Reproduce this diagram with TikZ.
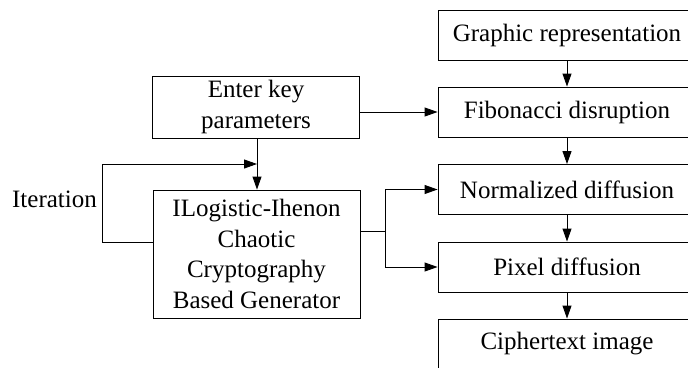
\documentclass[tikz,border=0pt]{standalone}
\usepackage{fontspec}
\setmainfont{LiberationSerif}[Extension=.ttf, UprightFont=*-Regular]
\usetikzlibrary{arrows.meta}

\tikzset{
    caja/.style={draw, line width=0.9pt, minimum width=258pt, minimum height=50pt, inner sep=0pt, align=center},
    cajaizq/.style={draw, line width=0.9pt, minimum width=207pt, inner sep=0pt, align=center},
    flecha/.style={line width=0.9pt, -{Triangle[length=13pt,width=9pt]}},
    linea/.style={line width=0.9pt}
}

\begin{document}
\begin{tikzpicture}[x=1pt, y=-1pt, font=\fontsize{25}{30.5}\selectfont]
    \useasboundingbox (0,0) rectangle (688,367);

    % Columna derecha
    \node[caja] (graf) at (567,35.5) {Graphic representation};
    \node[caja] (fib) at (567,112) {Fibonacci disruption};
    \node[caja] (norm) at (567,189.5) {Normalized diffusion};
    \node[caja] (pix) at (567,267) {Pixel diffusion};
    \node[caja] (cifr) at (567,344) {Ciphertext image};

    % Flechas verticales
    \foreach \a/\b in {graf/fib, fib/norm, norm/pix, pix/cifr}
        \draw[flecha] (\a) -- (\b);

    % Columna izquierda
    \node[cajaizq, minimum height=62pt] (clave) at (256,107) {Enter key\\parameters};
    \node[cajaizq, minimum height=128pt] (gen) at (256.5,254)
        {ILogistic-Ihenon\\Chaotic\\Cryptography\\Based Generator};
    \node (iter) at (54.5,199) {Iteration};

    % Clave hacia el generador y hacia Fibonacci
    \draw[flecha] (clave.south -| 257,0) -- (gen.north -| 257,0);
    \draw[flecha] (fib.west -| clave.east) -- (fib.west);

    % Lazo de iteracion
    \coordinate (it1) at (102,242);
    \coordinate (it2) at (102,164);
    \draw[linea] (gen.west |- it1) -- (it1) -- (it2);
    \draw[flecha] (it2) -- (257,164);

    % Rama hacia la difusion
    \coordinate (rama) at (385,231);
    \draw[linea] (gen.east |- rama) -- (rama);
    \draw[flecha] (rama) |- (norm.west);
    \draw[flecha] (rama) |- (pix.west);
\end{tikzpicture}
\end{document}
